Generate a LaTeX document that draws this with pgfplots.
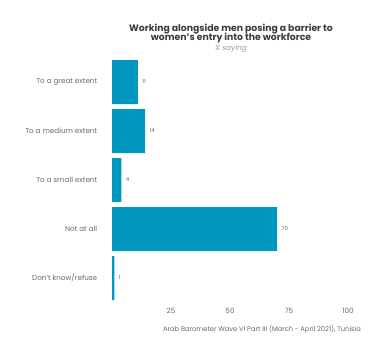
\documentclass[border=0pt]{standalone}
\usepackage{pgfplots}
\pgfplotsset{compat=1.18}
\usepackage{fontspec}
\setmainfont{Poppins}
\definecolor{barblue}{RGB}{0,152,190}
\definecolor{txtgray}{RGB}{105,105,105}
\definecolor{titlegray}{RGB}{60,60,60}
\begin{document}
\begin{tikzpicture}
\path[use as bounding box] (0pt,0pt) rectangle (387pt,-357pt);
\node[font=\fontsize{9.3}{10.5}\selectfont\bfseries, text=titlegray, align=center] at (231pt,-33.5pt) {Working alongside men posing a barrier to\\[-1.5pt]women's entry into the workforce};
\node[font=\fontsize{7.4}{8}\selectfont\itshape, text=gray!80] at (231pt,-48.5pt) {\% saying};
\begin{axis}[
  at={(112pt,-302.5pt)}, anchor=south west,
  scale only axis, width=236pt, height=245pt,
  xmin=0, xmax=100, ymin=-0.5, ymax=4.5,
  y dir=reverse,
  xbar, bar width=44pt,
  bar shift=0pt,
  axis line style={draw=none},
  major tick style={draw=none},
  xtick={25,50,75,100},
  ytick={0,1,2,3,4},
  yticklabels={To a great extent,To a medium extent,To a small extent,Not at all,Don't know/refuse},
  /pgf/number format/assume math mode=true,
  tick label style={font=\fontsize{7.2}{8}\selectfont, text=txtgray},
  yticklabel style={xshift=-7pt},
  xticklabel style={yshift=-2pt},
  nodes near coords,
  nodes near coords style={font=\fontsize{5.4}{6}\selectfont, text=txtgray, xshift=1pt},
  clip=false,
]
\addplot[fill=barblue, draw=none] coordinates {(11,0) (14,1) (4,2) (70,3) (1,4)};
\end{axis}
\node[font=\fontsize{6.7}{7.5}\selectfont, text=txtgray] at (262pt,-329pt) {Arab Barometer Wave VI Part III (March - April 2021), Tunisia};
\end{tikzpicture}
\end{document}
